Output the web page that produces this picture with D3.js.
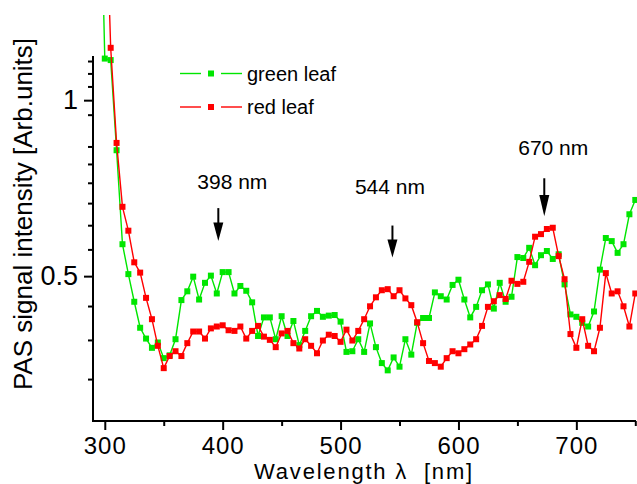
<!DOCTYPE html>
<html><head><meta charset="utf-8">
<script src="https://cdn.jsdelivr.net/npm/d3@7"></script>
<style>
body{margin:0;background:#fff}
svg{display:block}
text{font-family:"Liberation Sans",Arial,Helvetica,sans-serif;fill:#000}
</style>
</head><body>
<svg id="c" width="637" height="484"></svg>
<script>
// ---------- data ----------
const wavelength = d3.range(295, 751, 5); // nm
const greenLeaf = [3.17,1.178,1.171,0.821,0.567,0.504,0.452,0.408,0.391,0.377,
  0.385,0.362,0.366,0.390,0.455,0.471,0.499,0.456,0.487,0.501,
  0.467,0.508,0.508,0.467,0.481,0.472,0.451,0.395,0.425,0.425,
  0.390,0.427,0.395,0.419,0.381,0.403,0.427,0.436,0.426,0.428,
  0.429,0.418,0.371,0.372,0.390,0.371,0.415,0.378,0.355,0.345,
  0.363,0.350,0.390,0.367,0.416,0.424,0.424,0.469,0.462,0.456,
  0.483,0.493,0.456,0.425,0.443,0.473,0.484,0.440,0.487,0.452,
  0.461,0.539,0.537,0.559,0.522,0.543,0.552,0.535,0.545,0.484,
  0.430,0.426,0.416,0.410,0.435,0.513,0.581,0.574,0.548,0.567,
  0.638,0.675];
const redLeaf = [null,2.58,1.229,0.845,0.657,0.598,0.528,0.507,0.459,0.422,
  0.380,0.348,0.365,0.372,0.365,0.384,0.402,0.402,0.391,0.407,
  0.410,0.412,0.404,0.403,0.410,0.391,0.403,0.411,0.394,0.389,
  0.378,0.399,0.403,0.384,0.376,0.390,0.380,0.369,0.388,0.397,
  0.395,0.386,0.405,0.388,0.403,0.422,0.444,0.460,0.473,0.475,
  0.462,0.473,0.458,0.446,0.417,0.384,0.358,0.355,0.350,0.362,
  0.372,0.369,0.375,0.382,0.390,0.411,0.443,0.453,0.464,0.457,
  0.491,0.485,0.489,0.529,0.584,0.590,0.602,0.605,0.541,0.494,
  0.398,0.377,0.422,0.380,0.372,0.408,0.506,0.467,0.471,0.444,
  0.410,0.467];
const seriesNames = ["green leaf", "red leaf"];
const seriesColors = ["#00e600", "#ff0000"];
const xMajorTicks = [300, 400, 500, 600, 700];
const xMinorTicks = [350, 450, 550, 650, 750];
const yMajorTicks = [0.5, 1];
const yMinorTicks = [1/3, 7/18, 4/9, 5/9, 11/18, 2/3, 13/18, 7/9, 5/6, 17/18, 19/18, 10/9, 7/6];
const peakLabels = ["398 nm", "544 nm", "670 nm"];
const peakNm = [396.3, 544, 672.8];     // arrow positions (nm)
const peakTip = [0.574, 0.538, 0.633];  // arrow tip values

// ---------- layout ----------
const W = 637, H = 484;
const L = 93, R = 636, T = 56, B = 421;
const svg = d3.select("#c");
const x = d3.scaleLinear().domain([290, 750.6]).range([L, R]);
const y = d3.scaleLog().domain([0.2826, 1.19]).range([B, T]);

// clip (top region cut off)
svg.append("defs").append("clipPath").attr("id", "clip")
  .append("rect").attr("x", 0).attr("y", 15).attr("width", W).attr("height", H - 15);

// axes
function styleAxis(g){
  g.select(".domain").remove();
  g.selectAll(".tick line").attr("stroke", "#000").attr("stroke-width", 2);
}
const xMinor = svg.append("g").attr("transform", `translate(0,${B})`)
  .call(d3.axisBottom(x).tickValues(xMinorTicks).tickSize(5).tickFormat(""));
styleAxis(xMinor);
const xMajor = svg.append("g").attr("transform", `translate(0,${B})`)
  .call(d3.axisBottom(x).tickValues(xMajorTicks).tickSize(9).tickPadding(7).tickFormat(d3.format("d")));
styleAxis(xMajor);
xMajor.selectAll("text").attr("font-size", 24).style("font-family", '"Liberation Sans",Arial,sans-serif')
  .attr("letter-spacing", 1);

const yMinor = svg.append("g").attr("transform", `translate(${L},0)`)
  .call(d3.axisLeft(y).tickValues(yMinorTicks).tickSize(5).tickFormat(""));
styleAxis(yMinor);
const yMajor = svg.append("g").attr("transform", `translate(${L},0)`)
  .call(d3.axisLeft(y).tickValues(yMajorTicks).tickSize(9).tickPadding(6).tickFormat(d => d === 1 ? "1" : d3.format(".1f")(d)));
styleAxis(yMajor);
yMajor.selectAll("text").attr("font-size", 27).style("font-family", '"Liberation Sans",Arial,sans-serif');

// axis lines
svg.append("line").attr("x1", L).attr("x2", L).attr("y1", T).attr("y2", B + 1)
  .attr("stroke", "#000").attr("stroke-width", 2);
svg.append("line").attr("x1", L - 1).attr("x2", R).attr("y1", B).attr("y2", B)
  .attr("stroke", "#000").attr("stroke-width", 2);

// axis titles
svg.append("text").attr("transform", `translate(32,214) rotate(-90)`)
  .attr("text-anchor", "middle").attr("font-size", 26)
  .text("PAS signal intensity [Arb.units]");
svg.append("text").attr("x", 364).attr("y", 479).attr("text-anchor", "middle")
  .attr("font-size", 22).attr("letter-spacing", 1.8).style("white-space", "pre")
  .text("Wavelength \u03bb  [nm]");

// series
const plot = svg.append("g").attr("clip-path", "url(#clip)");
[greenLeaf, redLeaf].forEach((vals, i) => {
  const pts = wavelength.map((w, k) => [w, vals[k]]).filter(p => p[1] != null);
  const line = d3.line().x(p => x(p[0])).y(p => y(p[1]));
  plot.append("path").datum(pts).attr("d", line)
    .attr("fill", "none").attr("stroke", seriesColors[i]).attr("stroke-width", 1.4);
  plot.append("g").selectAll("rect").data(pts).join("rect")
    .attr("x", p => x(p[0]) - 3).attr("y", p => y(p[1]) - 3)
    .attr("width", 6).attr("height", 6).attr("fill", seriesColors[i]);
});

// legend
const legY = [73.5, 107];
seriesNames.forEach((name, i) => {
  const g = svg.append("g").attr("transform", `translate(0,${legY[i]})`);
  g.append("line").attr("x1", 180).attr("x2", 201).attr("stroke", seriesColors[i]).attr("stroke-width", 1.4);
  g.append("line").attr("x1", 221).attr("x2", 242).attr("stroke", seriesColors[i]).attr("stroke-width", 1.4);
  g.append("rect").attr("x", 208).attr("y", -3).attr("width", 6).attr("height", 6).attr("fill", seriesColors[i]);
  g.append("text").attr("x", 247).attr("y", 7).attr("font-size", 20).text(name);
});

// peak annotations
const arrowLen = [33, 32, 38];
const labelDx = [14, -2.5, 9];
const labelGap = [19, 31.5, 23];
peakLabels.forEach((lab, i) => {
  const ax = x(peakNm[i]), tip = y(peakTip[i]), top = tip - arrowLen[i];
  const headLen = arrowLen[i] * 0.56, hw = 5;
  svg.append("line").attr("x1", ax).attr("x2", ax).attr("y1", top).attr("y2", tip - headLen + 1)
    .attr("stroke", "#000").attr("stroke-width", 2);
  svg.append("path").attr("d", `M${ax - hw},${tip - headLen}L${ax + hw},${tip - headLen}L${ax},${tip}Z`).attr("fill", "#000");
  svg.append("text").attr("x", ax + labelDx[i]).attr("y", top - labelGap[i])
    .attr("text-anchor", "middle").attr("font-size", 21).text(lab);
});
</script>
</body></html>
